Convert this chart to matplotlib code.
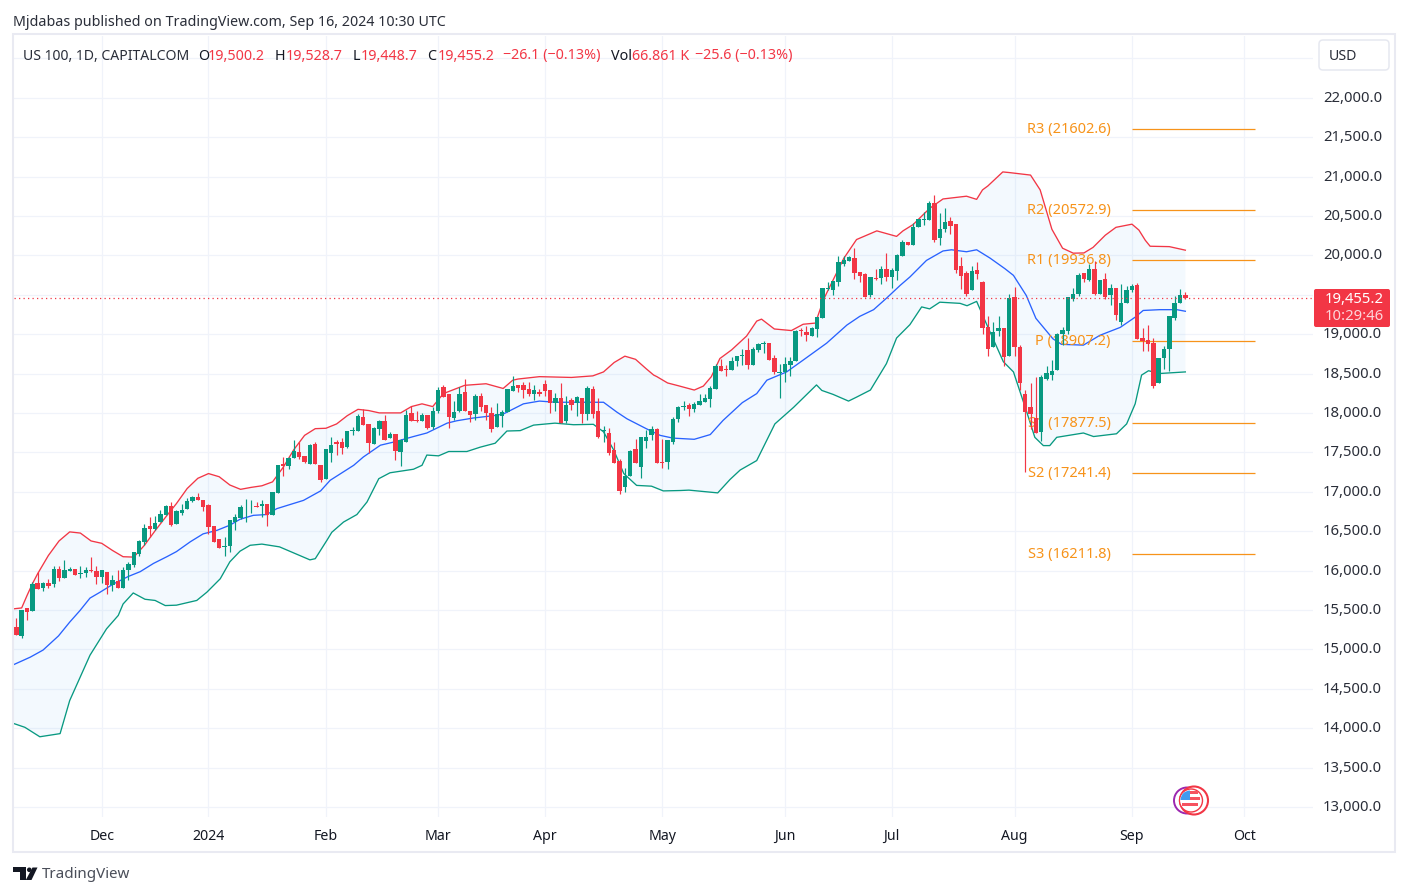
import matplotlib
matplotlib.use("Agg")
import matplotlib.pyplot as plt
from matplotlib.patches import Circle, FancyBboxPatch, Polygon, Rectangle, Wedge
from matplotlib.transforms import ScaledTranslation
import numpy as np

plt.rcParams['font.family'] = ['Noto Sans', 'DejaVu Sans']

opens = [15280,15165,15530,15480,15840,15780,15840,15830,16025,15905,15995,16025,15960,15965,16010,16000,15915,15985,15810,15870,
15780,16010,16065,16205,16365,16560,16530,16610,16705,16820,16595,16735,16780,16880,16930,16900,16830,16565,16400,16300,
16310,16615,16660,16800,16800,16820,16815,16840,16710,16985,17355,17320,17425,17500,17450,17350,17600,17335,17155,17490,
17630,17625,17565,17770,17765,17945,17855,17600,17795,17895,17680,17730,17500,17625,17995,17905,17895,17970,17820,18030,
18325,18240,17930,18020,18265,18030,17980,18210,18095,18005,17815,17955,18015,18275,18350,18350,18300,18235,18265,18365,
18290,18125,18185,17900,18160,18125,18185,17980,18300,18020,17775,17740,17525,17385,17065,17205,17540,17310,17640,17725,
17790,17380,17380,17625,17925,18075,18095,18050,18105,18135,18175,18300,18595,18550,18550,18660,18720,18800,18610,18800,
18880,18890,18700,18510,18525,18610,18660,19040,19030,18980,19065,19210,19575,19565,19655,19895,19925,19960,19785,19760,
19500,19715,19710,19820,19720,19800,19985,20175,20135,20355,20445,20445,20670,20215,20330,20435,20395,19860,19770,19555,
19810,19655,19095,18830,19040,19080,18720,19470,18840,18245,18070,17930,17760,18435,18480,18540,19005,19045,19450,19515,
19770,19690,19830,19515,19705,19490,19585,19150,19395,19560,19620,18955,18930,18890,18375,18695,18815,19210,19395,19500.2]
highs = [15400,15505,15530,15850,15980,15850,15890,16060,16060,16130,16040,16025,16055,16040,16170,16060,16010,15985,15940,16010,
16050,16105,16235,16390,16590,16680,16690,16765,16830,16865,16770,16850,16925,16945,16985,16900,16850,16565,16400,16420,
16640,16715,16825,16910,16900,16875,16900,16840,17000,17345,17445,17440,17660,17635,17450,17600,17625,17335,17545,17690,
17660,17680,17775,17815,17985,18045,17855,17815,17905,17970,17755,17730,17665,18035,18085,18020,17995,17970,18070,18335,
18350,18240,18150,18335,18430,18030,18235,18250,18095,18080,18130,18040,18300,18465,18350,18390,18390,18350,18300,18415,
18290,18250,18375,18210,18185,18210,18185,18340,18340,18185,17830,17805,17630,17410,17295,17530,17665,17700,17780,17830,
17805,17670,17650,17945,18085,18155,18130,18140,18245,18245,18340,18620,18685,18605,18710,18725,18815,18955,18830,18885,
18910,18890,18735,18620,18710,18710,19055,19080,19105,19095,19220,19590,19665,19680,19995,19995,19985,20095,19785,19770,
19720,19820,19870,20035,19845,20020,20200,20175,20405,20460,20545,20695,20760,20535,20595,20485,20395,19975,19795,19860,
19910,19680,19235,19155,19230,19080,19505,19595,18865,18285,18375,18450,18480,18595,18670,19010,19095,19465,19580,19780,
19770,19895,19930,19690,19770,19640,19585,19635,19610,19635,19645,19080,19115,18955,18700,18855,19235,19480,19575,19528.7]
lows = [15180,15140,15370,15480,15770,15740,15780,15790,15870,15905,15995,15945,15905,15915,15980,15830,15845,15700,15740,15780,
15780,15885,16045,16185,16320,16430,16520,16610,16705,16565,16595,16700,16780,16870,16900,16760,16465,16365,16285,16185,
16235,16510,16650,16615,16730,16800,16680,16565,16710,16985,17205,17285,17425,17420,17360,17350,17350,17120,17155,17375,
17460,17475,17550,17720,17765,17845,17485,17600,17715,17655,17680,17400,17320,17625,17895,17880,17895,17800,17795,18000,
18200,17805,17905,18010,18020,17880,17915,18030,17915,17760,17815,17815,18015,18275,18265,18190,18210,18170,18210,18210,
18000,18030,17870,17870,18040,17965,17870,17915,17940,17680,17625,17460,17360,16965,17000,17205,17360,17180,17550,17660,
17360,17300,17290,17610,17885,18040,17965,18015,18105,18135,18070,18300,18530,18470,18550,18595,18610,18560,18610,18775,
18760,18675,18495,18190,18390,18465,18660,18980,18915,18970,18965,19210,19560,19490,19615,19870,19925,19695,19660,19475,
19475,19690,19635,19670,19580,19685,19985,20135,20135,20355,20380,20445,20165,20130,20295,20270,19775,19570,19480,19555,
19695,19005,18725,18830,18980,18600,18720,18725,18290,17250,17800,17740,17645,18415,18415,18540,18865,19005,19420,19480,
19655,19680,19490,19515,19440,19370,19175,19115,19395,19540,18940,18790,18790,18315,18375,18555,18530,19175,19395,19448.7]
closes = [15180,15505,15475,15830,15770,15840,15800,16025,15905,16005,16015,15945,15970,16010,16000,15915,16005,15815,15875,15780,
16005,16080,16235,16375,16540,16525,16600,16715,16815,16575,16755,16765,16880,16935,16900,16810,16550,16365,16285,16310,
16640,16680,16800,16810,16810,16810,16840,16710,16990,17335,17320,17425,17515,17445,17380,17590,17350,17145,17540,17590,
17610,17550,17765,17780,17960,17845,17615,17805,17895,17655,17730,17515,17655,17970,17895,17895,17970,17805,18030,18285,
18200,17945,18010,18240,18020,17970,18210,18080,18005,17800,17980,18015,18300,18340,18315,18290,18235,18290,18235,18275,
18125,18185,17870,18105,18105,18200,17990,18315,17990,17690,17780,17485,17360,17015,17195,17515,17360,17690,17700,17790,
17370,17360,17650,17925,18080,18085,18045,18115,18145,18185,18315,18595,18530,18540,18660,18725,18735,18610,18815,18880,
18890,18675,18520,18520,18620,18660,19045,19035,18990,19080,19220,19590,19585,19680,19910,19935,19975,19770,19735,19475,
19720,19700,19820,19720,19810,20000,20175,20135,20355,20455,20455,20670,20200,20330,20420,20375,19810,19735,19505,19795,
19760,19080,18815,19030,19080,18710,19455,18830,18380,18015,17980,17740,18455,18505,18530,19005,19055,19465,19515,19755,
19705,19830,19515,19690,19465,19585,19240,19395,19560,19610,18940,18915,18880,18340,18695,18815,19235,19395,19490,19455.2]

upper_bars = [-1,1,2,3,4,6,8,10,12,14,16,18,20,22,24,26,28,30,32,34,36,38,40,42,44,46,48,50,52,54,56,58,60,62,64,66,68,72,74,76,78,80,
84,88,91.2,93,94,98,104,108,110,112,114,116,118,119.4,120,122,124,127,128.7,130.2,131.8,134,136.8,138.7,139.6,142,145.2,147.4,149.7,
151.2,151.8,155,157.4,161.2,164.9,166.1,168,171.1,173.6,178,179.9,181,182,184.8,186,190,191.8,194,196,198,200,201.7,204,206,209,210.3,
211.5,212.4,216,219]
upper_vals = [15510,15525,15682,15830,15960,16190,16375,16490,16475,16375,16345,16255,16175,16170,16320,16505,16680,16850,17040,17170,17230,17190,17085,17030,17055,17075,17125,17310,17535,17715,17800,17805,17860,17965,18045,18030,18000,18000,18080,18115,18080,18245,
18350,18370,18310,18415,18430,18460,18450,18470,18520,18640,18720,18680,18560,18480,18460,18380,18345,18290,18340,18460,18690,18800,18975,19165,19190,19065,19045,19125,19140,
19435,19520,19960,20200,20310,20240,20310,20390,20596,20715,20750,20710,20830,20880,21058,21050,21018,20830,20330,20090,20027,20030,20100,20255,20355,20395,20320,
20190,20115,20110,20065]

basis_bars = [-1,2.6,5,7.9,10,11.9,13.8,15.7,18.2,21,23.2,25.7,28.2,30,32.6,35,37.6,40,41.9,44.4,46.9,48.8,50.7,53.8,57,58.8,63.2,65,68.2,70.7,74.4,76.9,80.7,82.5,85.6,89.4,91.2,95,98,101,110,112.5,114.4,118,120.6,123,
127,130,132.4,136,138.7,140.6,144.3,147.4,151.8,155.6,158,160.6,163,165.6,167.4,170.5,173.6,175.2,178,179.9,182.4,185.2,186.8,189.2,191,194.2,195.8,199.9,203,206.8,209.6,211.1,214.2,217.4,219]
basis_vals = [14790,14900,14990,15170,15345,15490,15650,15725,15830,15925,15985,16090,16175,16240,16365,16465,16510,16575,16650,16700,16710,16785,16825,16890,17010,17145,17335,17440,17590,17630,17700,17745,17870,17900,17935,17965,17985,18115,18150,18135,18135,18010,17925,17800,17715,17680,
17665,17725,17905,18130,18245,18415,18520,18670,18885,19115,19225,19310,19455,19620,19725,19935,20055,20070,20045,20070,19965,19830,19745,19490,19200,18940,18870,18860,18985,19085,19215,19300,19310,19310,19290]

lower_bars = [-1,1.6,4.4,8.2,10,13.8,16.9,19.1,20,21.9,24.1,26,27.9,30,33.8,35.7,38.2,40,41.9,43.8,46,49.3,55,56,58.2,59.1,61.3,63.8,65.7,67.9,70,74.4,76,76.9,79.1,81,84.4,86.9,89.7,91.9,94.4,96.9,100.9,104.4,108.1,110,111.9,113.8,116.2,119,121.2,124.4,126,131.4,
133.7,135.6,138.7,142.1,145.6,149.9,150.9,153,155.9,157.4,160,163,164.9,167.4,169.6,171.1,173,176.8,178.1,179.9,181.8,184.9,186.8,189.2,190.8,192.4,193.6,194.9,199.9,201.8,206.1,208,209.6,210.8,212.1,214.2,219]
lower_vals = [14070,14010,13890,13930,14350,14925,15260,15430,15575,15715,15635,15620,15555,15560,15620,15725,15895,16110,16245,16320,16335,16300,16135,16150,16385,16485,16615,16710,16870,17165,17240,17285,17335,17465,17455,17510,17510,17565,17615,17770,17775,17845,17870,17850,17855,17760,17530,17230,17080,17070,17010,17015,17020,16985,
17155,17275,17395,17860,18070,18355,18285,18235,18150,18200,18290,18625,18950,19120,19345,19320,19405,19390,19360,19415,19120,18650,18520,18030,17690,17585,17585,17690,17745,17700,17735,17860,18115,18480,18535,18500,18520]

pivot_names = ["R3", "R2", "R1", "P", "S1", "S2", "S3"]
pivot_values = [21602.6, 20572.9, 19936.8, 18907.2, 17877.5, 17241.4, 16211.8]
pivot_start_bar = 209
pivot_end_bar = 232
pivot_label_bar = 205

month_bars = [16, 36, 58, 79, 99, 121, 144, 164, 187, 209, 230]
month_labels = ["Dec", "2024", "Feb", "Mar", "Apr", "May", "Jun", "Jul", "Aug", "Sep", "Oct"]
price_ticks = list(range(13000, 23000, 500))
hidden_prices = {19500, 22500}
price_labels = ["" if p in hidden_prices else f"{p:,.1f}" for p in price_ticks]
last_close = closes[-1]

GREEN, RED, BLUE, ORANGE = "#089981", "#f23645", "#2962ff", "#f7931a"
GRID, FRAME, INK = "#f0f3fa", "#e9eaf2", "#131722"
W, H = 1408, 896
fig = plt.figure(figsize=(W / 100, H / 100), dpi=100, facecolor="white")


def rect(x0, y0, x1, y1):
    return [x0 / W, 1 - y1 / H, (x1 - x0) / W, (y1 - y0) / H]


ax = fig.add_axes(rect(14, 36, 1313, 817))
ax.set_xlim((14 - 16.33) / 5.338, (1313 - 16.33) / 5.338)
ax.set_ylim(17000 - (817 - 491.7) / 0.0788, 17000 + (491.7 - 36) / 0.0788)
for s in ax.spines.values():
    s.set_visible(False)
ax.set_axisbelow(True)
ax.grid(True, color=GRID, lw=0.9, zorder=0)
ax.set_xticks(month_bars, month_labels)
ax.set_yticks(price_ticks, price_labels)
ax.yaxis.tick_right()
ax.tick_params(axis="both", length=0)
ax.tick_params(axis="x", pad=8.5, labelsize=10.2, labelcolor=INK)
ax.tick_params(axis="y", pad=7.2, labelsize=10.7, labelcolor="#2a2e39")
ax.get_xticklabels()[1].set_fontweight("bold")
up = ScaledTranslation(0, 1.5 / 72 * 0.72, fig.dpi_scale_trans)
for lbl in ax.get_yticklabels():
    lbl.set_transform(lbl.get_transform() + up)

ax.fill(np.r_[upper_bars, lower_bars[::-1]], np.r_[upper_vals, lower_vals[::-1]],
        color="#2196f3", alpha=0.05, lw=0, zorder=1)
ax.plot(upper_bars, upper_vals, color=RED, lw=0.95, zorder=2)
ax.plot(basis_bars, basis_vals, color=BLUE, lw=0.95, zorder=2)
ax.plot(lower_bars, lower_vals, color=GREEN, lw=0.95, zorder=2)

for name, val in zip(pivot_names, pivot_values):
    ax.hlines(val, pivot_start_bar, pivot_end_bar, color=ORANGE, lw=0.9, zorder=2)
    ax.text(pivot_label_bar, val - 6, f"{name} ({val})", color=ORANGE, fontsize=10.5,
            ha="right", va="center", zorder=2.5)

bars = np.arange(len(opens))
o, h, l, c = map(np.array, (opens, highs, lows, closes))
cols = [GREEN if ci >= oi else RED for oi, ci in zip(o, c)]
ax.vlines(bars, l, h, colors=cols, lw=0.85, zorder=3)
ax.bar(bars, np.maximum(np.abs(c - o), 12), bottom=np.minimum(o, c), width=0.82, color=cols, lw=0, zorder=3.1)
ax.axhline(last_close, color=RED, lw=0.9, ls=(0, (1, 2.6)), zorder=3.2)

# overlay in figure pixels for the chart chrome
ov = fig.add_axes([0, 0, 1, 1], facecolor="none")
ov.set_xlim(0, W)
ov.set_ylim(H, 0)
ov.axis("off")
ov.add_patch(Rectangle((13, 34), 1382, 818, fill=False, ec=FRAME, lw=1.5))


def t(x, y, s, color=INK, size=10.2, **kw):
    kw.setdefault("va", "center")
    return ov.text(x, y, s, color=color, fontsize=size, **kw)


t(13, 22, "Mjdabas published on TradingView.com, Sep 16, 2024 10:30 UTC", "#2a2e39", 10.25)
t(23, 56, "US 100, 1D, CAPITALCOM", "#2a2e39", 10.1)
for x, s, col in [(198, "O", INK), (208, "19,500.2", RED), (275, "H", INK), (286, "19,528.7", RED),
                  (353, "L", INK), (361, "19,448.7", RED), (427, "C", INK), (438, "19,455.2", RED),
                  (503, "−26.1 (−0.13%)", RED), (611, "Vol", INK), (632, "66.861 K", RED),
                  (695, "−25.6 (−0.13%)", RED)]:
    t(x, 56, s, col, 10.3)

ov.add_patch(FancyBboxPatch((1319, 40), 70, 30, boxstyle="round,pad=0,rounding_size=4",
                            fc="white", ec="#e6e8f0", lw=1.1))
t(1329, 57, "USD", "#2a2e39")

ov.add_patch(FancyBboxPatch((1314, 289), 76, 38, boxstyle="round,pad=0,rounding_size=2",
                            fc=RED, ec="none", zorder=5))
t(1384, 299.5, "19,455.2", "white", 10.7, ha="right", zorder=6, fontweight="semibold")
t(1384, 317, "10:29:46", "#fdd5da", 10.7, ha="right", zorder=6, fontweight="medium")

# flag badge
ov.add_patch(Circle((1187, 800.5), 13, fc="white", ec="#9c27b0", lw=1.4, zorder=4))
ov.add_patch(Circle((1194, 800.5), 14, fc="white", ec=RED, lw=1.5, zorder=4.1))
ov.add_patch(Circle((1191, 800.5), 11.5, fc="white", ec=RED, lw=1.0, zorder=4.2))
ov.add_patch(Circle((1190, 800), 9.5, fc="white", ec="none", zorder=4.3))
ov.add_patch(Wedge((1190, 800), 9.5, 180, 270, fc="#3f9bf0", ec="none", zorder=4.4))
ov.add_patch(Rectangle((1190, 791), 8, 3, fc="#f6525f", ec="none", zorder=4.4))
ov.add_patch(Rectangle((1190, 797), 9.5, 3, fc="#f6525f", ec="none", zorder=4.4))
ov.add_patch(Rectangle((1182, 803), 16, 3, fc="#f6525f", ec="none", zorder=4.4))

# TradingView mark
ov.add_patch(Polygon([(13.3, 867.5), (26, 867.5), (26, 880), (20, 880), (20, 872), (13.3, 872)], fc=INK, ec="none"))
ov.add_patch(Circle((29.3, 869.8), 2.3, fc=INK, ec="none"))
ov.add_patch(Polygon([(32.5, 867.5), (37.5, 867.5), (31.5, 880), (25.8, 880)], fc=INK, ec="none"))
t(42, 875, "TradingView", "#4a4e59", 10.9)

fig.savefig("out.png", dpi=100)
